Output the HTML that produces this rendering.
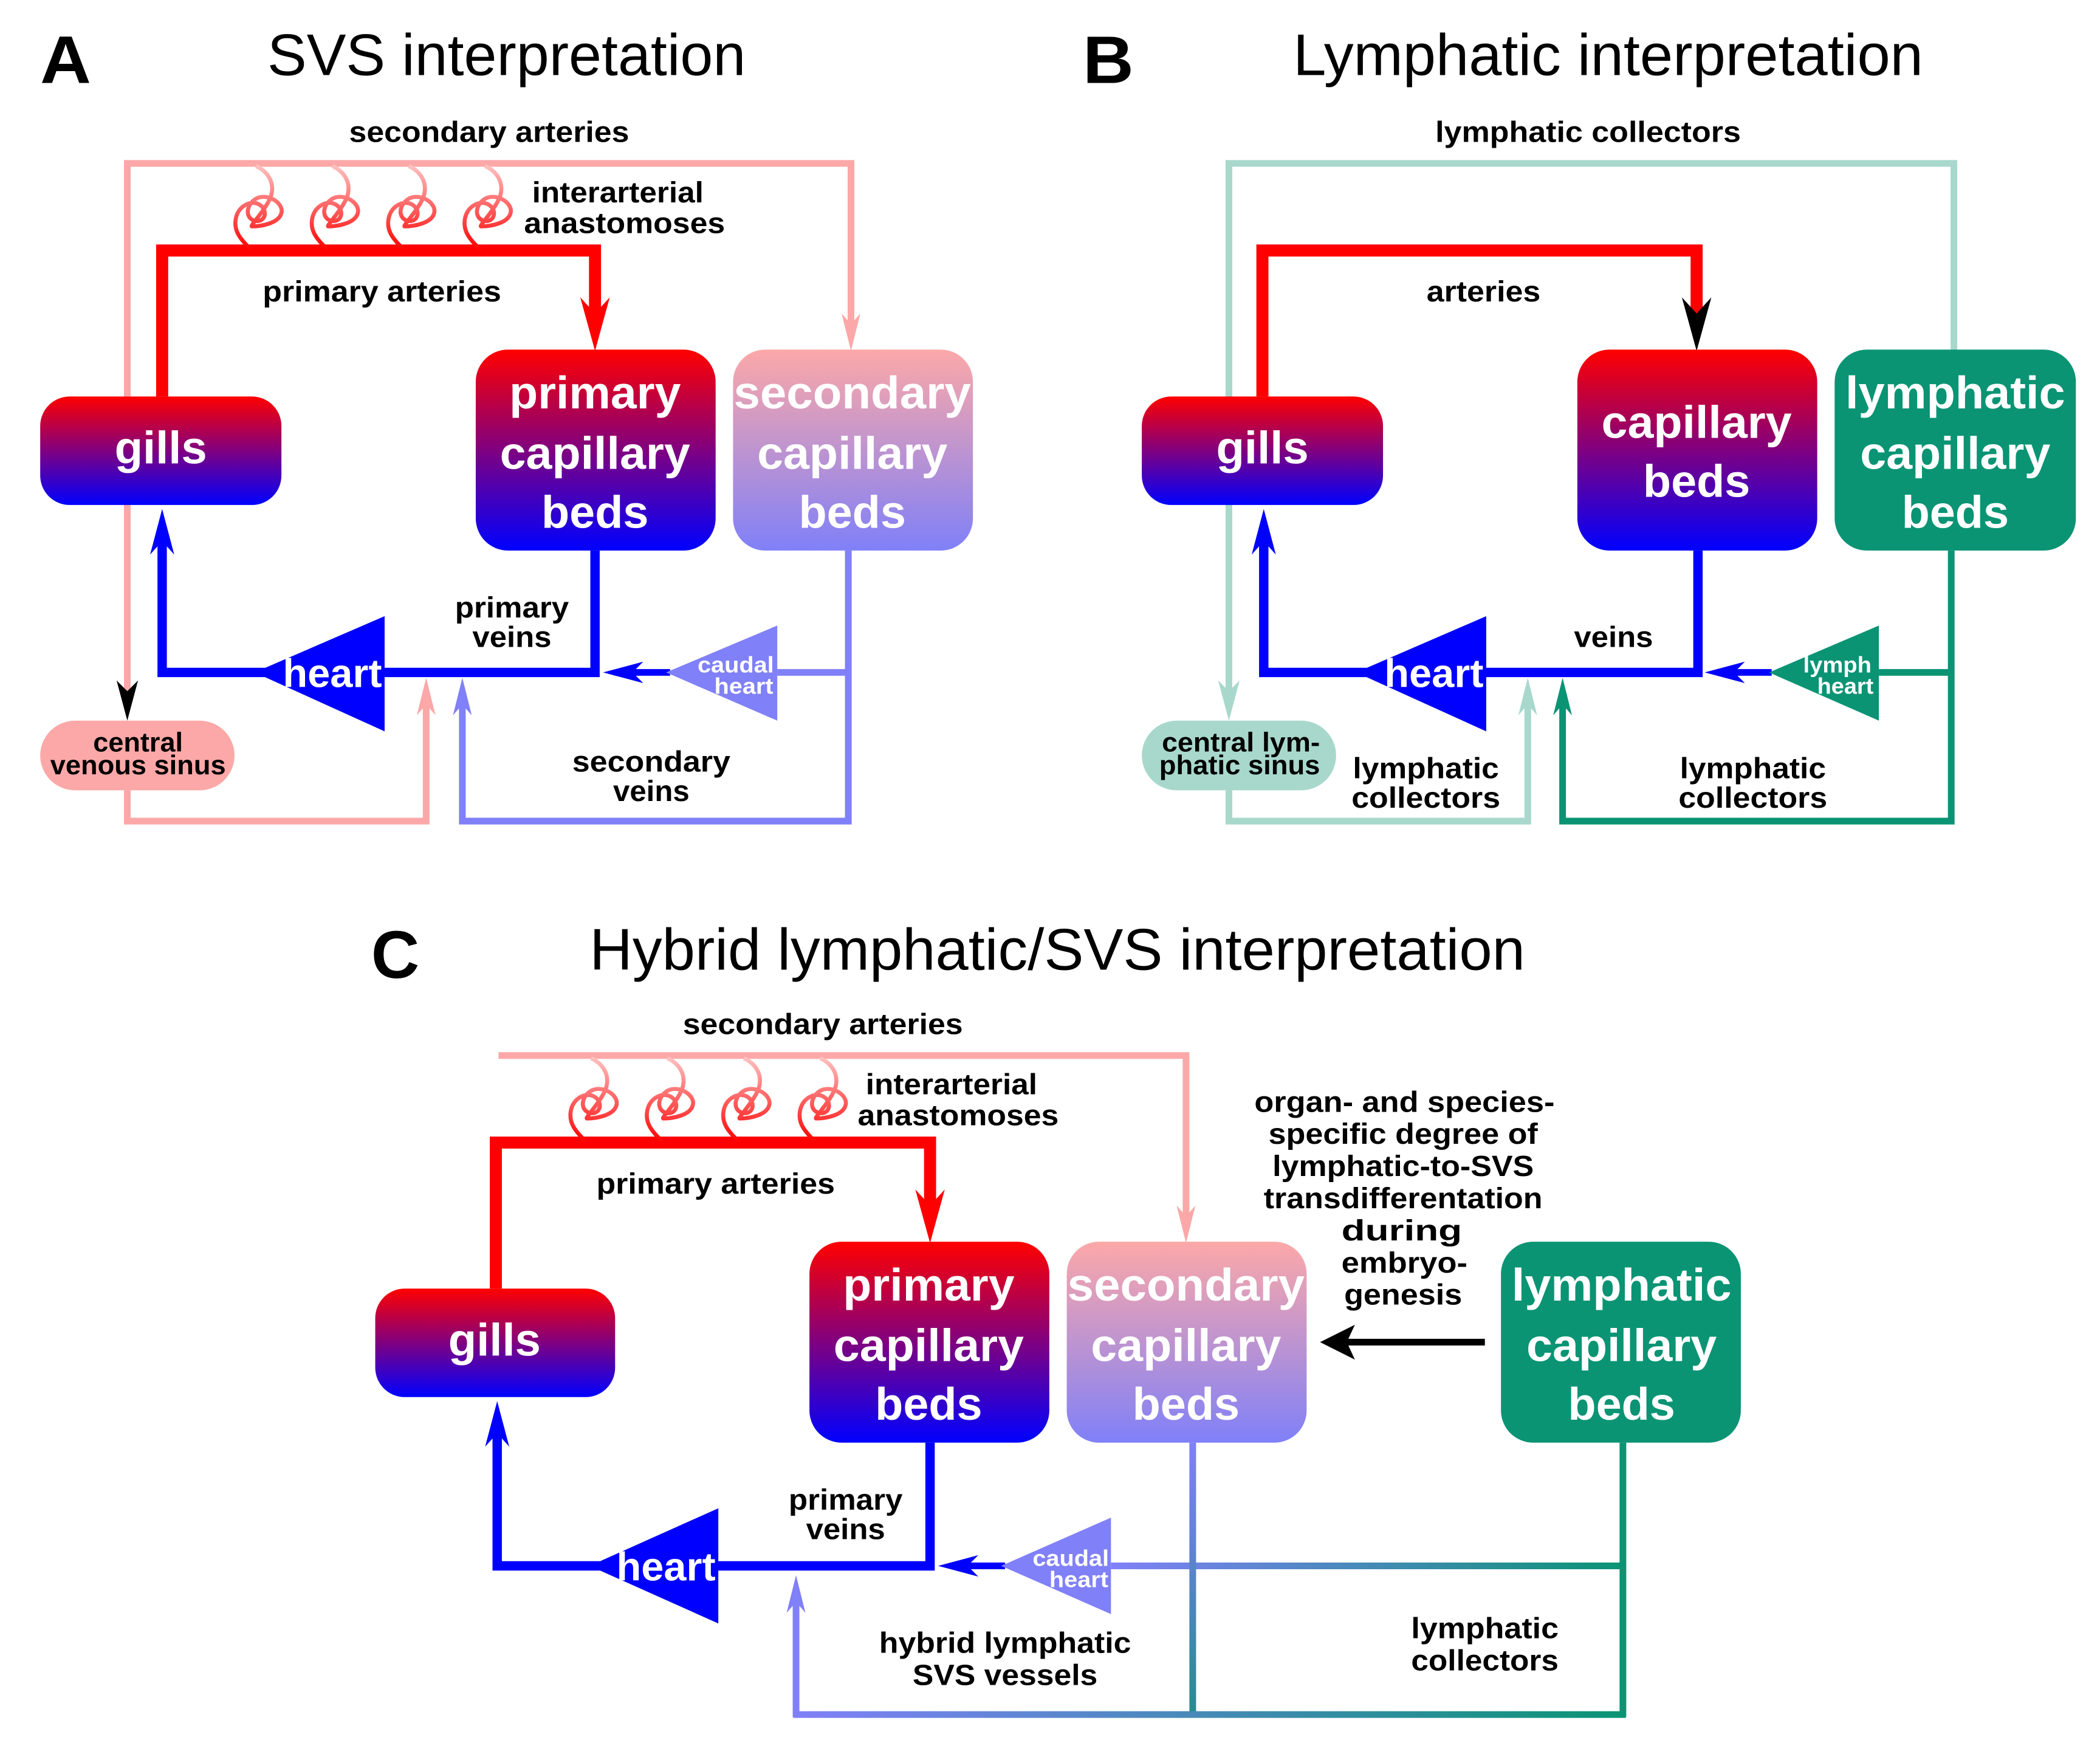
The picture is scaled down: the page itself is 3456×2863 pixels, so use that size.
<!DOCTYPE html>
<html><head><meta charset="utf-8"><style>
html,body{margin:0;padding:0;background:#fff;}
svg{display:block;}
text{font-family:"Liberation Sans",Arial,sans-serif;}
.l{font-weight:bold;font-size:22px;fill:#000;text-anchor:middle;}
.b{font-weight:bold;font-size:34px;fill:#fff;text-anchor:middle;}
.t{font-size:44px;fill:#000;text-anchor:middle;}
.L{font-weight:bold;font-size:50px;fill:#000;}
.s{font-weight:bold;font-size:17px;fill:#fff;text-anchor:middle;}
</style></head><body>
<svg width="3456" height="2863" viewBox="0 0 1567 1299" preserveAspectRatio="none" xmlns="http://www.w3.org/2000/svg">
<defs>
<linearGradient id="rb" x1="0" y1="0" x2="0" y2="1"><stop offset="0" stop-color="#ff0000"/><stop offset="1" stop-color="#0000ff"/></linearGradient>
<linearGradient id="pl" x1="0" y1="0" x2="0" y2="1"><stop offset="0" stop-color="#fca8a8"/><stop offset="1" stop-color="#8080f8"/></linearGradient>
<linearGradient id="cg" x1="0" y1="1" x2="0" y2="0"><stop offset="0" stop-color="#ff0000"/><stop offset="1" stop-color="#ffc0c0"/></linearGradient>
<linearGradient id="h1" gradientUnits="userSpaceOnUse" x1="829" y1="0" x2="1211" y2="0"><stop offset="0" stop-color="#8080f8"/><stop offset="1" stop-color="#0a9474"/></linearGradient>
<linearGradient id="h2" gradientUnits="userSpaceOnUse" x1="594" y1="0" x2="1211" y2="0"><stop offset="0" stop-color="#8080f8"/><stop offset="1" stop-color="#0a9474"/></linearGradient>
<linearGradient id="v1" gradientUnits="userSpaceOnUse" x1="0" y1="1077" x2="0" y2="1280"><stop offset="0" stop-color="#8080f8"/><stop offset="1" stop-color="#2a8a90"/></linearGradient>
<path id="coil" d="M0,0 C-8,-8 -14,-14 -12,-24 C-10,-34 0,-38 6,-34 C12,-30 10,-22 4,-22 C-4,-22 -6,-32 2,-38 C10,-44 24,-36 22,-28 C20,-20 6,-18 0,-18 C-2,-18 10,-30 14,-40 C18,-52 10,-60 3,-63" fill="none" stroke="url(#cg)" stroke-width="3"/>
</defs>
<g fill="none" stroke-linejoin="miter">
<polyline points="95,528 95,122 635,122 635,250" stroke="#fca8a8" stroke-width="5"/>
<polyline points="95,590 95,613 318,613 318,520" stroke="#fca8a8" stroke-width="5"/>
<polyline points="121,296 121,187 444,187 444,245" stroke="#ff0000" stroke-width="9"/>
<polyline points="444,411 444,502 121,502 121,395" stroke="#0000ff" stroke-width="7"/>
<polyline points="633,411 633,613 345,613 345,520" stroke="#8080f8" stroke-width="5"/>
<line x1="580" y1="502" x2="633" y2="502" stroke="#8080f8" stroke-width="5"/>
<line x1="500" y1="502" x2="462" y2="502" stroke="#0000ff" stroke-width="5"/>
<polyline points="917,528 917,122 1458,122 1458,262" stroke="#a8d8cc" stroke-width="5"/>
<polyline points="917,590 917,613 1140,613 1140,520" stroke="#a8d8cc" stroke-width="5"/>
<polyline points="942,296 942,187 1266,187 1266,245" stroke="#ff0000" stroke-width="9"/>
<polyline points="1267,411 1267,502 943,502 943,395" stroke="#0000ff" stroke-width="7"/>
<polyline points="1456,411 1456,613 1166,613 1166,520" stroke="#0a9474" stroke-width="5"/>
<line x1="1402" y1="502" x2="1456" y2="502" stroke="#0a9474" stroke-width="5"/>
<line x1="1322" y1="502" x2="1284" y2="502" stroke="#0000ff" stroke-width="5"/>
<polyline points="372,788 885,788 885,916" stroke="#fca8a8" stroke-width="5"/>
<polyline points="370,962 370,853 694,853 694,911" stroke="#ff0000" stroke-width="9"/>
<polyline points="694,1077 694,1169 371,1169 371,1060" stroke="#0000ff" stroke-width="7"/>
<line x1="829" y1="1169" x2="1213" y2="1169" stroke="url(#h1)" stroke-width="5"/>
<line x1="1211" y1="1077" x2="1211" y2="1282" stroke="#0a9474" stroke-width="5"/>
<line x1="890" y1="1077" x2="890" y2="1280" stroke="url(#v1)" stroke-width="5"/>
<line x1="592" y1="1280" x2="1213" y2="1280" stroke="url(#h2)" stroke-width="5"/>
<line x1="594" y1="1282" x2="594" y2="1188" stroke="#8080f8" stroke-width="5"/>
<line x1="750" y1="1169" x2="712" y2="1169" stroke="#0000ff" stroke-width="5"/>
<line x1="1108" y1="1002" x2="1000" y2="1002" stroke="#000" stroke-width="5"/>
</g>
<use href="#coil" x="188" y="187"/><use href="#coil" x="245" y="187"/><use href="#coil" x="302" y="187"/><use href="#coil" x="359" y="187"/>
<use href="#coil" x="438" y="853"/><use href="#coil" x="495" y="853"/><use href="#coil" x="552" y="853"/><use href="#coil" x="609" y="853"/>
<g>
<path d="M95,538 l-8,-30 l8,8 l8,-8z" fill="#000"/>
<path d="M635,262 l-7,-28 l7,8 l7,-8z" fill="#fca8a8"/>
<path d="M318,506 l-7,28 l7,-8 l7,8z" fill="#fca8a8"/>
<path d="M444,262 l-11,-40 l11,12 l11,-12z" fill="#ff0000"/>
<path d="M121,380 l-9,34 l9,-10 l9,10z" fill="#0000ff"/>
<path d="M345,506 l-7,28 l7,-8 l7,8z" fill="#8080f8"/>
<path d="M450,502 l30,-8 l-8,8 l8,8z" fill="#0000ff"/>
<path d="M917,538 l-8,-30 l8,8 l8,-8z" fill="#a8d8cc"/>
<path d="M1140,506 l-7,28 l7,-8 l7,8z" fill="#a8d8cc"/>
<path d="M1266,262 l-11,-40 l11,12 l11,-12z" fill="#000"/>
<path d="M943,380 l-9,34 l9,-10 l9,10z" fill="#0000ff"/>
<path d="M1166,506 l-7,28 l7,-8 l7,8z" fill="#0a9474"/>
<path d="M1272,502 l30,-8 l-8,8 l8,8z" fill="#0000ff"/>
<path d="M885,928 l-7,-28 l7,8 l7,-8z" fill="#fca8a8"/>
<path d="M694,928 l-11,-40 l11,12 l11,-12z" fill="#ff0000"/>
<path d="M371,1046 l-9,34 l9,-10 l9,10z" fill="#0000ff"/>
<path d="M594,1176 l-7,28 l7,-8 l7,8z" fill="#8080f8"/>
<path d="M700,1169 l30,-8 l-8,8 l8,8z" fill="#0000ff"/>
<path d="M985,1002 l26,-13 l-6,13 l6,13z" fill="#000"/>
</g>
<rect x="30" y="296" width="180" height="81" rx="22" fill="url(#rb)"/>
<rect x="355" y="261" width="179" height="150" rx="24" fill="url(#rb)"/>
<rect x="547" y="261" width="179" height="150" rx="24" fill="url(#pl)"/>
<rect x="30" y="538" width="145" height="52" rx="26" fill="#fca8a8"/>
<polygon points="190,502 287,460 287,546" fill="#0000ff"/>
<polygon points="497,502 580,467 580,538" fill="#8080f8"/>
<rect x="852" y="296" width="180" height="81" rx="22" fill="url(#rb)"/>
<rect x="1177" y="261" width="179" height="150" rx="24" fill="url(#rb)"/>
<rect x="1369" y="261" width="180" height="150" rx="24" fill="#0a9474"/>
<rect x="852" y="538" width="145" height="52" rx="26" fill="#a8d8cc"/>
<polygon points="1012,502 1109,460 1109,546" fill="#0000ff"/>
<polygon points="1320,502 1402,467 1402,538" fill="#0a9474"/>
<rect x="280" y="962" width="179" height="81" rx="22" fill="url(#rb)"/>
<rect x="604" y="927" width="179" height="150" rx="24" fill="url(#rb)"/>
<rect x="796" y="927" width="179" height="150" rx="24" fill="url(#pl)"/>
<rect x="1120" y="927" width="179" height="150" rx="24" fill="#0a9474"/>
<polygon points="440,1169 536,1126 536,1212" fill="#0000ff"/>
<polygon points="747,1169 829,1133 829,1205" fill="#8080f8"/>
<text class="L" x="30" y="62" textLength="38" lengthAdjust="spacingAndGlyphs">A</text>
<text class="t" x="378" y="56" textLength="357" lengthAdjust="spacingAndGlyphs">SVS interpretation</text>
<text class="l" x="365" y="106" textLength="209" lengthAdjust="spacingAndGlyphs">secondary arteries</text>
<text class="l" x="461" y="151" textLength="128" lengthAdjust="spacingAndGlyphs">interarterial</text>
<text class="l" x="466" y="174" textLength="150" lengthAdjust="spacingAndGlyphs">anastomoses</text>
<text class="l" x="285" y="225" textLength="178" lengthAdjust="spacingAndGlyphs">primary arteries</text>
<text class="b" x="120" y="346" textLength="69" lengthAdjust="spacingAndGlyphs">gills</text>
<text class="b" x="444" y="305" textLength="128" lengthAdjust="spacingAndGlyphs">primary</text>
<text class="b" x="444" y="350" textLength="142" lengthAdjust="spacingAndGlyphs">capillary</text>
<text class="b" x="444" y="394" textLength="80" lengthAdjust="spacingAndGlyphs">beds</text>
<text class="b" x="636" y="305" textLength="177" lengthAdjust="spacingAndGlyphs">secondary</text>
<text class="b" x="636" y="350" textLength="142" lengthAdjust="spacingAndGlyphs">capillary</text>
<text class="b" x="636" y="394" textLength="80" lengthAdjust="spacingAndGlyphs">beds</text>
<text class="b" x="248" y="513" style="font-size:30px" textLength="74" lengthAdjust="spacingAndGlyphs">heart</text>
<text class="l" x="382" y="461" textLength="85" lengthAdjust="spacingAndGlyphs">primary</text>
<text class="l" x="382" y="483" textLength="59" lengthAdjust="spacingAndGlyphs">veins</text>
<text class="s" x="549" y="502" textLength="57" lengthAdjust="spacingAndGlyphs">caudal</text>
<text class="s" x="555" y="518" textLength="44" lengthAdjust="spacingAndGlyphs">heart</text>
<text class="l" x="103" y="561" style="font-size:20px" textLength="67" lengthAdjust="spacingAndGlyphs">central</text>
<text class="l" x="103" y="578" style="font-size:20px" textLength="131" lengthAdjust="spacingAndGlyphs">venous sinus</text>
<text class="l" x="486" y="576" textLength="118" lengthAdjust="spacingAndGlyphs">secondary</text>
<text class="l" x="486" y="598" textLength="57" lengthAdjust="spacingAndGlyphs">veins</text>
<text class="L" x="808" y="62" textLength="38" lengthAdjust="spacingAndGlyphs">B</text>
<text class="t" x="1200" y="56" textLength="470" lengthAdjust="spacingAndGlyphs">Lymphatic interpretation</text>
<text class="l" x="1185" y="106" textLength="228" lengthAdjust="spacingAndGlyphs">lymphatic collectors</text>
<text class="l" x="1107" y="225" textLength="85" lengthAdjust="spacingAndGlyphs">arteries</text>
<text class="b" x="942" y="346" textLength="69" lengthAdjust="spacingAndGlyphs">gills</text>
<text class="b" x="1266" y="327" textLength="142" lengthAdjust="spacingAndGlyphs">capillary</text>
<text class="b" x="1266" y="371" textLength="80" lengthAdjust="spacingAndGlyphs">beds</text>
<text class="b" x="1459" y="305" textLength="164" lengthAdjust="spacingAndGlyphs">lymphatic</text>
<text class="b" x="1459" y="350" textLength="142" lengthAdjust="spacingAndGlyphs">capillary</text>
<text class="b" x="1459" y="394" textLength="80" lengthAdjust="spacingAndGlyphs">beds</text>
<text class="b" x="1070" y="513" style="font-size:30px" textLength="74" lengthAdjust="spacingAndGlyphs">heart</text>
<text class="l" x="1204" y="483" textLength="59" lengthAdjust="spacingAndGlyphs">veins</text>
<text class="s" x="1371" y="502" textLength="51" lengthAdjust="spacingAndGlyphs">lymph</text>
<text class="s" x="1377" y="518" textLength="42" lengthAdjust="spacingAndGlyphs">heart</text>
<text class="l" x="926" y="561" style="font-size:20px" textLength="118" lengthAdjust="spacingAndGlyphs">central lym-</text>
<text class="l" x="925" y="578" style="font-size:20px" textLength="120" lengthAdjust="spacingAndGlyphs">phatic sinus</text>
<text class="l" x="1064" y="581" textLength="109" lengthAdjust="spacingAndGlyphs">lymphatic</text>
<text class="l" x="1064" y="603" textLength="111" lengthAdjust="spacingAndGlyphs">collectors</text>
<text class="l" x="1308" y="581" textLength="109" lengthAdjust="spacingAndGlyphs">lymphatic</text>
<text class="l" x="1308" y="603" textLength="111" lengthAdjust="spacingAndGlyphs">collectors</text>
<text class="L" x="277" y="730" textLength="36" lengthAdjust="spacingAndGlyphs">C</text>
<text class="t" x="789" y="724" textLength="698" lengthAdjust="spacingAndGlyphs">Hybrid lymphatic/SVS interpretation</text>
<text class="l" x="614" y="772" textLength="209" lengthAdjust="spacingAndGlyphs">secondary arteries</text>
<text class="l" x="710" y="817" textLength="128" lengthAdjust="spacingAndGlyphs">interarterial</text>
<text class="l" x="715" y="840" textLength="150" lengthAdjust="spacingAndGlyphs">anastomoses</text>
<text class="l" x="534" y="891" textLength="178" lengthAdjust="spacingAndGlyphs">primary arteries</text>
<text class="b" x="369" y="1012" textLength="69" lengthAdjust="spacingAndGlyphs">gills</text>
<text class="b" x="693" y="971" textLength="128" lengthAdjust="spacingAndGlyphs">primary</text>
<text class="b" x="693" y="1016" textLength="142" lengthAdjust="spacingAndGlyphs">capillary</text>
<text class="b" x="693" y="1060" textLength="80" lengthAdjust="spacingAndGlyphs">beds</text>
<text class="b" x="885" y="971" textLength="177" lengthAdjust="spacingAndGlyphs">secondary</text>
<text class="b" x="885" y="1016" textLength="142" lengthAdjust="spacingAndGlyphs">capillary</text>
<text class="b" x="885" y="1060" textLength="80" lengthAdjust="spacingAndGlyphs">beds</text>
<text class="b" x="1210" y="971" textLength="164" lengthAdjust="spacingAndGlyphs">lymphatic</text>
<text class="b" x="1210" y="1016" textLength="142" lengthAdjust="spacingAndGlyphs">capillary</text>
<text class="b" x="1210" y="1060" textLength="80" lengthAdjust="spacingAndGlyphs">beds</text>
<text class="b" x="497" y="1180" style="font-size:30px" textLength="74" lengthAdjust="spacingAndGlyphs">heart</text>
<text class="l" x="631" y="1127" textLength="85" lengthAdjust="spacingAndGlyphs">primary</text>
<text class="l" x="631" y="1149" textLength="59" lengthAdjust="spacingAndGlyphs">veins</text>
<text class="s" x="799" y="1169" textLength="57" lengthAdjust="spacingAndGlyphs">caudal</text>
<text class="s" x="805" y="1185" textLength="44" lengthAdjust="spacingAndGlyphs">heart</text>
<text class="l" x="1048" y="830" textLength="224" lengthAdjust="spacingAndGlyphs">organ- and species-</text>
<text class="l" x="1047" y="854" textLength="201" lengthAdjust="spacingAndGlyphs">specific degree of</text>
<text class="l" x="1047" y="878" textLength="195" lengthAdjust="spacingAndGlyphs">lymphatic-to-SVS</text>
<text class="l" x="1047" y="902" textLength="208" lengthAdjust="spacingAndGlyphs">transdifferentation</text>
<text class="l" x="1046" y="926" textLength="90" lengthAdjust="spacingAndGlyphs">during</text>
<text class="l" x="1048" y="950" textLength="94" lengthAdjust="spacingAndGlyphs">embryo-</text>
<text class="l" x="1047" y="974" textLength="88" lengthAdjust="spacingAndGlyphs">genesis</text>
<text class="l" x="750" y="1234" textLength="188" lengthAdjust="spacingAndGlyphs">hybrid lymphatic</text>
<text class="l" x="750" y="1258" textLength="138" lengthAdjust="spacingAndGlyphs">SVS vessels</text>
<text class="l" x="1108" y="1223" textLength="110" lengthAdjust="spacingAndGlyphs">lymphatic</text>
<text class="l" x="1108" y="1247" textLength="110" lengthAdjust="spacingAndGlyphs">collectors</text>
</svg>
</body></html>
